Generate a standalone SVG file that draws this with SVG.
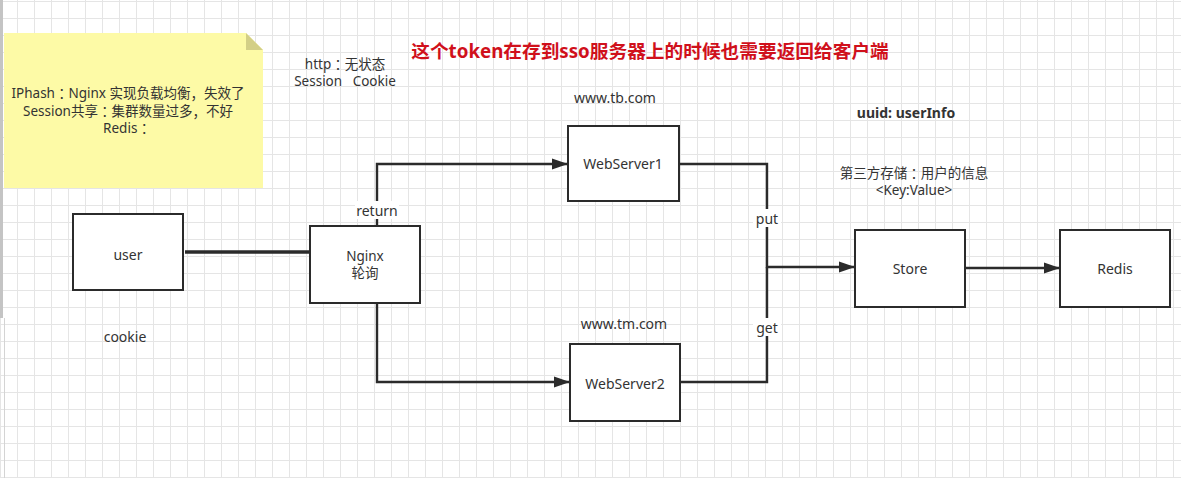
<svg xmlns="http://www.w3.org/2000/svg" width="1181" height="478" viewBox="0 0 1181 478">
<defs>
<pattern id="grid" patternUnits="userSpaceOnUse" x="0" y="1" width="17" height="17">
<rect x="0" y="0" width="17" height="1" fill="#e5e5e5"/>
<rect x="0" y="0" width="1" height="17" fill="#e5e5e5"/>
</pattern>
<marker id="arr" markerWidth="16" markerHeight="12" refX="16" refY="6" orient="auto" markerUnits="userSpaceOnUse">
<path d="M0,0.5 L16,6 L0,11.5 Z" fill="#2b2b2b"/>
</marker>
<style>
text{font-family:"Noto Sans","Noto Sans CJK SC",sans-serif;font-size:14px;fill:#333;text-anchor:middle;dominant-baseline:central;white-space:pre}
.ml{font-size:13.5px}
.cjk{font-family:"Noto Sans CJK SC",sans-serif}
.col{font-family:"Noto Sans CJK TC",sans-serif}
.box{fill:#fff;stroke:#2b2b2b;stroke-width:2}
.conn{fill:none;stroke:#2b2b2b;stroke-width:2.4}
.lblbg{fill:#fff}
.title{font-weight:bold;font-size:18.7px;fill:#d0101b}
.bold{font-weight:bold}
</style>
</defs>
<rect width="1181" height="478" fill="#fff"/>
<rect width="1181" height="478" fill="url(#grid)"/>
<rect x="0" y="0" width="3" height="318" fill="#c4c4c4"/>
<rect x="4" y="318" width="1" height="160" fill="#d4d4d4"/>

<g id="note">
<path d="M4,33 H246 L263,50 V188 H4 Z" fill="#fdfaa6"/>
<path d="M246,33 L263,50 H246 Z" fill="#d3cf86"/>
<text class="ml" x="128" y="93">IPhash<tspan class="col">：</tspan>Nginx 实现负载均衡<tspan class="cjk">，</tspan>失效了</text>
<text class="ml" x="128" y="111">Session共享<tspan class="col">：</tspan>集群数量过多<tspan class="cjk">，</tspan>不好</text>
<text class="ml" x="127" y="128">Redis<tspan class="col">：</tspan></text>
</g>

<g id="labels">
<text class="ml" x="345" y="64">http<tspan class="col">：</tspan>无状态</text>
<text class="ml" x="345" y="81">Session   Cookie</text>
<text class="title" x="650" y="50">这个token在存到sso服务器上的时候也需要返回给客户端</text>
<text x="615" y="97">www.tb.com</text>
<text class="bold" x="906" y="112">uuid: userInfo</text>
<text class="ml" x="914" y="173">第三方存储<tspan class="col">：</tspan>用户的信息</text>
<text class="ml" x="914" y="190">&lt;Key:Value&gt;</text>
<text x="125" y="336">cookie</text>
<text x="624" y="323">www.tm.com</text>
</g>

<g id="connectors">
<line x1="185" y1="252" x2="310" y2="252" stroke="#2b2b2b" stroke-width="3.5"/>
<path class="conn" d="M377,226 V164 H568" marker-end="url(#arr)"/>
<path class="conn" d="M377,303 V382 H570" marker-end="url(#arr)"/>
<path class="conn" d="M679,164 H767 V267 H855" marker-end="url(#arr)"/>
<path class="conn" d="M680,382 H767 V267"/>
<path class="conn" d="M965,268 H1060" marker-end="url(#arr)"/>
<rect class="lblbg" x="355" y="201" width="44" height="18"/>
<text x="377" y="210">return</text>
<rect class="lblbg" x="753" y="209" width="28" height="18"/>
<text x="767" y="218">put</text>
<rect class="lblbg" x="753" y="318" width="28" height="18"/>
<text x="767" y="327">get</text>
</g>

<g id="user">
<rect class="box" x="73" y="214" width="110" height="76"/>
<text x="128" y="254">user</text>
</g>
<g id="nginx">
<rect class="box" x="310" y="226" width="110" height="77"/>
<text class="ml" x="365" y="256">Nginx</text>
<text class="ml" x="365" y="273">轮询</text>
</g>
<g id="webserver1">
<rect class="box" x="568" y="126" width="111" height="75"/>
<text x="623" y="163">WebServer1</text>
</g>
<g id="webserver2">
<rect class="box" x="570" y="344" width="110" height="77"/>
<text x="625" y="383">WebServer2</text>
</g>
<g id="store">
<rect class="box" x="855" y="230" width="110" height="77"/>
<text x="910" y="268">Store</text>
</g>
<g id="redis">
<rect class="box" x="1060" y="230" width="110" height="77"/>
<text x="1115" y="268">Redis</text>
</g>
</svg>
